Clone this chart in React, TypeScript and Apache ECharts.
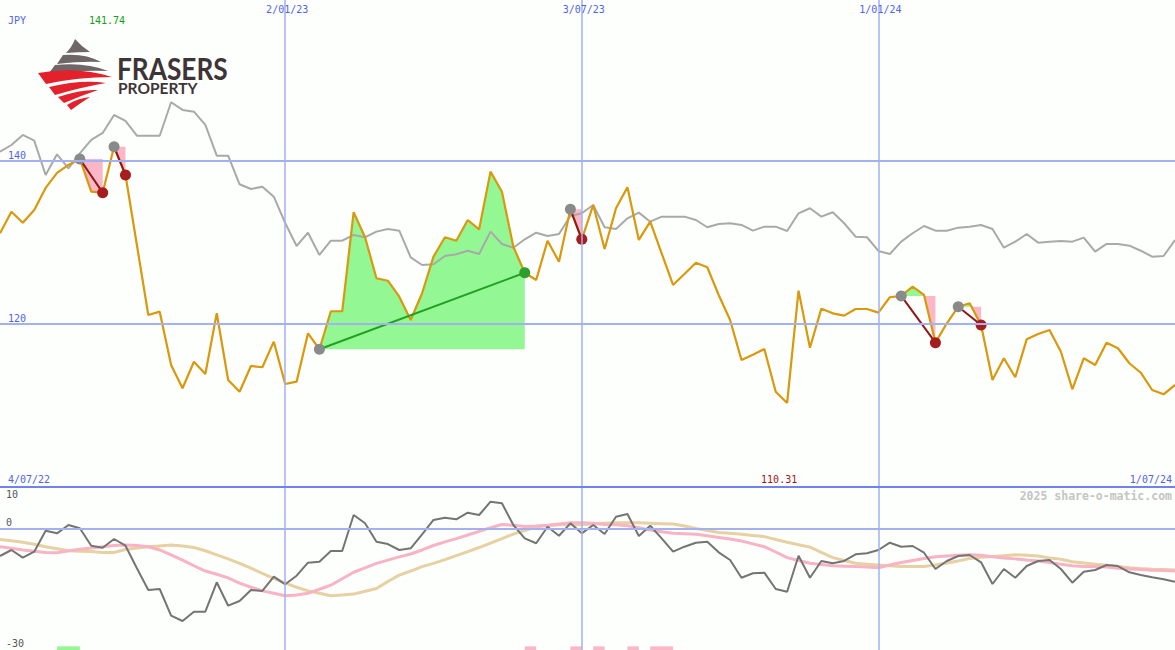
import React, { useEffect, useRef } from 'react';
import * as echarts from 'echarts';

// ---------- categories (weekly, Mondays) ----------
const WEEK_MS = 7 * 86400000;
const START_MS = Date.UTC(2022, 6, 11);
const dates: string[] = [];
for (let i = 0; i < 104; i++) {
  const d = new Date(START_MS + i * WEEK_MS);
  dates.push(`${d.getUTCDate()}/${String(d.getUTCMonth() + 1).padStart(2, '0')}/${String(d.getUTCFullYear()).slice(2)}`);
}
const dividerDates = ['2/01/23', '3/07/23', '1/01/24'];
const edgeLabels = ['4/07/22', '1/07/24'];
const bottomTicks = [10, 0, -30];
const mainTicks = [120, 140];
const currencyLabel = 'JPY';
const watermark = '2025 share-o-matic.com';

// ---------- series values ----------
const priceJPY = [
  131.13, 133.78, 132.43, 133.99, 136.69, 138.53, 139.51, 140.25, 136.23, 136.11,
  141.74, 138.28, 129.69, 121.1, 121.51, 114.97, 112.11, 115.37, 113.87, 121.31,
  113.13, 111.69, 114.85, 114.69, 117.83, 112.64, 112.92, 118.86, 116.9, 121.56,
  121.56, 133.71, 130.64, 125.61, 125.31, 123.35, 120.49, 123.77, 128.26, 130.64,
  130.22, 132.76, 131.62, 138.69, 136.23, 129.48, 126.29, 125.4, 130.22, 127.64,
  134.07, 130.39, 134.6, 129.2, 134.2, 136.77, 130.31, 132.55, 128.67, 124.79,
  126.13, 127.52, 126.96, 123.56, 120.49, 115.58, 116.23, 116.93, 111.69, 110.31,
  124.09, 117.09, 121.88, 121.31, 121.02, 121.84, 121.84, 121.39, 123.28, 123.44,
  124.58, 123.56, 117.71, 120.09, 122.12, 122.54, 119.88, 113.13, 115.79, 113.46,
  118.12, 118.77, 119.26, 116.6, 111.99, 115.79, 114.97, 117.71, 117.02, 115.18,
  114.02, 111.9, 111.37, 112.52,
];
const indexScaled = [
  141.14, 141.96, 143.19, 142.49, 138.28, 140.82, 139.1, 140.94, 142.58, 143.44,
  145.64, 144.91, 143.1, 143.1, 143.1, 147.2, 146.26, 146.05, 144.42, 140.65,
  140.65, 137.14, 136.56, 136.85, 135.62, 132.39, 129.57, 131.2, 128.47, 130.22,
  130.22, 130.92, 130.64, 131.33, 131.66, 131.45, 128.18, 127.24, 127.33, 128.34,
  128.55, 128.99, 128.59, 131.33, 129.82, 129.36, 130.39, 131.2, 130.8, 131.04,
  133.25, 133.58, 134.6, 131.87, 131.66, 132.97, 133.66, 132.55, 133.17, 133.17,
  133.17, 132.76, 131.87, 132.27, 132.36, 132.15, 131.45, 131.94, 131.94, 131.41,
  133.58, 134.2, 133.17, 133.71, 132.36, 130.71, 130.64, 128.96, 128.59, 130.1,
  131.13, 132.02, 131.45, 131.45, 131.82, 131.94, 132.15, 131.66, 129.36, 130.1,
  131.04, 129.98, 130.1, 130.18, 130.1, 130.59, 128.87, 129.82, 129.82, 129.61,
  128.99, 128.26, 128.34, 130.31,
];
const momentum = [
  -6.79, -5.31, -7.21, -5.73, -0.54, -1.19, 0.86, 0.05, -4.25, -4.74,
  -2.59, -4.25, -9.83, -15.19, -14.94, -21.53, -22.84, -20.54, -20.54, -13.28,
  -19.06, -17.9, -15.19, -15.43, -11.9, -13.78, -11.65, -8.44, -8.2, -5.56,
  -5.56, 3.33, 1.28, -3.26, -3.83, -5.31, -4.89, -1.43, 2.1, 2.67,
  2.27, 3.9, 3.33, 6.62, 6.22, 0.86, -2.42, -3.65, 0.44, -1.78,
  1.28, -1.19, 0.86, -1.36, 2.91, 3.58, -1.85, 0.69, -2.42, -5.73,
  -4.49, -3.51, -3.26, -5.88, -7.78, -12.15, -11.06, -10.91, -14.94, -15.6,
  -6.72, -12.15, -8.02, -8.59, -8.02, -6.37, -6.12, -5.31, -3.51, -4.49,
  -4.32, -5.98, -10, -8.02, -6.79, -6.54, -8.35, -13.7, -10, -12.15,
  -9.26, -8.02, -7.78, -10, -13.38, -10.67, -10.25, -9.01, -9.26, -10.81,
  -11.48, -12.05, -12.54, -13.14,
];
const pinkAvg = [
  -4.5, -4.9, -5.3, -5.6, -5.9, -6.0, -5.5, -5.1, -4.8, -4.5,
  -4.2, -4.1, -4.2, -4.5, -5.3, -6.5, -7.8, -9.2, -10.5, -11.3,
  -12.2, -13.5, -14.5, -15.4, -16.0, -16.6, -16.4, -16.0, -15.0, -14.0,
  -12.4, -10.8, -9.7, -8.6, -7.8, -7.0, -6.3, -5.3, -4.2, -3.3,
  -2.5, -1.6, -0.7, 0.2, 1.0, 0.8, 0.5, 0.6, 0.8, 1.1,
  1.4, 1.4, 1.3, 1.0, 0.9, 0.7, 0.2, -0.4, -0.8, -1.2,
  -1.3, -1.4, -1.8, -2.2, -2.6, -3.1, -3.8, -4.5, -5.8, -7.2,
  -7.9, -8.6, -8.9, -9.2, -9.3, -9.4, -9.5, -9.7, -9.0, -8.4,
  -7.9, -7.4, -7.0, -6.8, -6.6, -6.5, -6.6, -7.0, -7.3, -7.5,
  -7.8, -8.0, -8.4, -8.8, -9.2, -9.4, -9.4, -9.5, -9.8, -10.0,
  -10.1, -10.3, -10.4, -10.5,
];
const tanAvg = [
  -2.7, -3.0, -3.4, -3.9, -4.5, -5.0, -5.5, -5.6, -5.7, -5.9,
  -5.9, -5.2, -4.8, -4.5, -4.3, -4.1, -4.3, -4.7, -5.5, -6.5,
  -7.5, -8.6, -9.8, -11.1, -12.3, -13.5, -14.5, -15.4, -16.0, -16.6,
  -16.4, -16.2, -15.5, -14.8, -13.1, -11.5, -10.5, -9.4, -8.6, -7.7,
  -6.7, -5.7, -4.7, -3.6, -2.5, -1.4, -0.5, 0.4, 0.7, 0.9,
  0.9, 0.9, 1.1, 1.3, 1.4, 1.4, 1.4, 1.3, 1.2, 1.1,
  0.6, 0.0, -0.5, -1.0, -1.2, -1.4, -1.7, -2.0, -2.7, -3.4,
  -4.0, -4.6, -5.9, -7.2, -7.9, -8.6, -8.8, -9.0, -9.2, -9.4,
  -9.4, -9.4, -9.0, -8.5, -8.0, -7.4, -7.1, -6.9, -6.7, -6.5,
  -6.6, -6.8, -7.3, -7.6, -8.2, -8.5, -8.8, -9.1, -9.4, -9.7,
  -9.9, -10.05, -10.15, -10.25,
];
// trades: [entry index, exit index]
const trades = [[7, 9], [10, 11], [28, 46], [50, 51], [79, 82], [84, 86]];
// bottom signal strips: [from index, to index]
const greenSignals = [[5, 7]];
const pinkSignals = [[46, 47], [50, 51], [52, 53], [55, 56], [57, 59]];

// ---------- styling ----------
const BG = '#fdfffd';
const BLUE_TXT = '#5262ee';
const GRID_CLR = '#a3b1f1';
const DIVIDER_CLR = '#7282ec';
const MONO = '"DejaVu Sans Mono", "Liberation Mono", monospace';
const F10 = `10px ${MONO}`;
const W = 1175;
const MAIN_H = 487;

// ---------- logo shapes ----------
const logoGray = [
  'M75,39 Q81,46 90,52 Q79,52 66,53 Q72,47 75,39 Z',
  'M63,55 Q85,53 101,62 Q83,61 57,64 Z',
  'M55,65 Q86,62 108,71 Q85,70 49,73 Z',
];
const logoRed = [
  'M38,73 Q78,66 112,77 Q78,77 46,84 Z',
  'M49,87 Q82,79 106,83 Q82,87 55,95 Z',
  'M58,97 Q82,89 98,90 Q80,96 64,103 Z',
  'M67,105 Q78,98 90,97 Q79,104 71,110 Z',
];
let logoRegistered = false;
function registerLogo() {
  if (logoRegistered) return;
  logoRegistered = true;
  logoGray.forEach((d, i) => echarts.graphic.registerShape('logoG' + i, echarts.graphic.extendPath(d, {})));
  logoRed.forEach((d, i) => echarts.graphic.registerShape('logoR' + i, echarts.graphic.extendPath(d, {})));
}

function withCrossings(pts: number[][], baseY: number) {
  const out: number[][] = [pts[0]];
  for (let k = 1; k < pts.length; k++) {
    const [x0, y0] = pts[k - 1];
    const [x1, y1] = pts[k];
    if ((y0 - baseY) * (y1 - baseY) < 0) {
      const t = (baseY - y0) / (y1 - y0);
      out.push([x0 + t * (x1 - x0), baseY]);
    }
    out.push(pts[k]);
  }
  return out;
}

function buildOption(): any {
  const vLine = { color: GRID_CLR, width: 1.5, type: 'solid' };
  const hLine = { color: GRID_CLR, width: 2, type: 'solid' };
  const areaItems = [
    ...greenSignals.map(([a, b]) => [
      { xAxis: dates[a], yAxis: -30, itemStyle: { color: '#94f794' } },
      { xAxis: dates[b], yAxis: -29.1 },
    ]),
    ...pinkSignals.map(([a, b]) => [
      { xAxis: dates[a], yAxis: -30, itemStyle: { color: '#fbb6c8' } },
      { xAxis: dates[b], yAxis: -29.1 },
    ]),
  ];
  const gridMarks = (hVals: number[]) => ({
    silent: true, symbol: ['none', 'none'], label: { show: false },
    data: [
      ...dividerDates.map((d) => ({ xAxis: d, lineStyle: vLine })),
      ...hVals.map((v) => ({ yAxis: v, lineStyle: hLine })),
    ],
  });
  const hiddenX = (gridIndex: number) => ({
    type: 'category', gridIndex, data: dates, boundaryGap: false, show: false,
  });
  return {
    animation: false,
    backgroundColor: BG,
    grid: [
      { left: 0, top: 0, width: W, height: MAIN_H },
      { left: 0, top: 488, width: W, height: 162 },
    ],
    xAxis: [hiddenX(0), hiddenX(1)],
    yAxis: [
      {
        type: 'value', gridIndex: 0, min: 100, max: 159.75, interval: 20,
        axisLine: { show: false }, axisTick: { show: false },
        axisLabel: {
          inside: true, margin: 8, color: BLUE_TXT, fontFamily: MONO, fontSize: 10,
          verticalAlign: 'bottom',
          formatter: (v: number) => (mainTicks.includes(v) ? String(v) : ''),
        },
        splitLine: { show: false },
      },
      {
        type: 'value', gridIndex: 1, min: -30, max: 10, interval: 10, show: false,
      },
    ],
    series: [
      {
        // carrier for the main panel's grid lines (drawn beneath everything)
        type: 'line', xAxisIndex: 0, yAxisIndex: 0, z: 0, data: [],
        symbol: 'none', silent: true,
        markLine: gridMarks(mainTicks),
      },
      {
        // carrier for the lower panel's grid lines and signal strips
        type: 'line', xAxisIndex: 1, yAxisIndex: 1, z: 0, data: [],
        symbol: 'none', silent: true,
        markLine: gridMarks([0]),
        markArea: { silent: true, data: areaItems },
      },
      {
        // trade fills
        type: 'custom', xAxisIndex: 0, yAxisIndex: 0, z: 1, silent: true,
        data: trades,
        renderItem: (params: any, api: any) => {
          const e = api.value(0);
          const x = api.value(1);
          const base = priceJPY[e];
          const pts: number[][] = [];
          for (let k = e; k <= x; k++) pts.push(api.coord([k, priceJPY[k]]));
          const baseY = api.coord([e, base])[1];
          const cp = withCrossings(pts, baseY);
          const x0 = cp[0][0];
          const x1 = cp[cp.length - 1][0];
          const up = cp.map(([px, py]) => [px, Math.min(py, baseY)]).concat([[x1, baseY], [x0, baseY]]);
          const dn = cp.map(([px, py]) => [px, Math.max(py, baseY)]).concat([[x1, baseY], [x0, baseY]]);
          return {
            type: 'group',
            children: [
              { type: 'polygon', shape: { points: up }, style: { fill: '#93f893' } },
              { type: 'polygon', shape: { points: dn }, style: { fill: '#fbb6c8' } },
            ],
          };
        },
      },
      {
        type: 'line', xAxisIndex: 0, yAxisIndex: 0, z: 2, data: indexScaled,
        symbol: 'none', lineStyle: { color: '#a9a9a9', width: 2 }, silent: true,
      },
      {
        type: 'line', xAxisIndex: 0, yAxisIndex: 0, z: 3, data: priceJPY,
        symbol: 'none', lineStyle: { color: '#da980c', width: 2.2 }, silent: true,
      },
      {
        // trade lines and markers
        type: 'custom', xAxisIndex: 0, yAxisIndex: 0, z: 4, silent: true,
        data: trades,
        renderItem: (params: any, api: any) => {
          const e = api.value(0);
          const x = api.value(1);
          const gain = priceJPY[x] > priceJPY[e];
          const p0 = api.coord([e, priceJPY[e]]);
          const p1 = api.coord([x, priceJPY[x]]);
          return {
            type: 'group',
            children: [
              {
                type: 'line', shape: { x1: p0[0], y1: p0[1], x2: p1[0], y2: p1[1] },
                style: { stroke: gain ? '#21a021' : '#8f1717', lineWidth: 2 },
              },
              { type: 'circle', shape: { cx: p0[0], cy: p0[1], r: 5.5 }, style: { fill: '#8a8a8a' } },
              { type: 'circle', shape: { cx: p1[0], cy: p1[1], r: 5.5 }, style: { fill: gain ? '#2e9e2e' : '#a61d1d' } },
            ],
          };
        },
      },
      {
        type: 'line', xAxisIndex: 1, yAxisIndex: 1, z: 2, data: tanAvg,
        symbol: 'none', lineStyle: { color: '#e7d0a2', width: 3 }, silent: true,
      },
      {
        type: 'line', xAxisIndex: 1, yAxisIndex: 1, z: 3, data: pinkAvg,
        symbol: 'none', lineStyle: { color: '#f8b3c5', width: 3 }, silent: true,
      },
      {
        type: 'line', xAxisIndex: 1, yAxisIndex: 1, z: 4, data: momentum,
        symbol: 'none', lineStyle: { color: '#747474', width: 2 }, silent: true,
      },
    ],
  };
}

function txt(text: string, x: number, y: number, fill: string, align = 'left', vAlign = 'middle', font = F10) {
  return {
    type: 'text', x, y, silent: true, z: 20,
    style: { text, fill, font, align, verticalAlign: vAlign, textAlign: align, textVerticalAlign: vAlign },
  };
}

function buildGraphics(chart: any) {
  const dividerIdx = dividerDates.map((d) => dates.indexOf(d));
  const px = (i: number) => chart.convertToPixel({ xAxisIndex: 0 }, dates[i]);
  const py1 = (v: number) => chart.convertToPixel({ yAxisIndex: 1 }, v);
  const maxV = Math.max(...priceJPY);
  const minV = Math.min(...priceJPY);
  const maxI = priceJPY.indexOf(maxV);
  const minI = priceJPY.indexOf(minV);
  const els: any[] = [];
  // panel divider
  els.push({
    type: 'line', z: 15, silent: true,
    shape: { x1: 0, y1: MAIN_H, x2: W, y2: MAIN_H },
    style: { stroke: DIVIDER_CLR, lineWidth: 2 },
  });
  els.push(txt(currencyLabel, 8, 20, BLUE_TXT));
  els.push(txt(maxV.toFixed(2), px(maxI) - 7, 20, '#12a012', 'center'));
  dividerDates.forEach((d, k) => els.push(txt(d, px(dividerIdx[k]) + 2, 9, BLUE_TXT, 'center')));
  els.push(txt(edgeLabels[0], 8, 479, BLUE_TXT));
  els.push(txt(edgeLabels[1], 1172, 479, BLUE_TXT, 'right'));
  els.push(txt(minV.toFixed(2), px(minI) - 8, 479, '#a2161a', 'center'));
  els.push(txt(watermark, 1172, 496, '#c4c4c4', 'right', 'middle', `bold 11.5px ${MONO}`));
  bottomTicks.forEach((v) => {
    const y = py1(v);
    if (v === 10) els.push(txt(String(v), 6, y + 1, '#555555', 'left', 'top'));
    else els.push(txt(String(v), 6, y - 1.5, '#555555', 'left', 'bottom'));
  });
  // logo
  logoGray.forEach((_, i) => els.push({ type: 'logoG' + i, x: 0, y: 0, z: 20, silent: true, style: { fill: '#6f6668' } }));
  logoRed.forEach((_, i) => els.push({ type: 'logoR' + i, x: 0, y: 0, z: 20, silent: true, style: { fill: '#e3202c' } }));
  els.push({
    type: 'text', x: 117, y: 68, scaleX: 0.875, z: 20, silent: true,
    style: { text: 'FRASERS', fill: '#3e3438', font: 'bold 30px Lato', verticalAlign: 'middle', textVerticalAlign: 'middle' },
  });
  els.push({
    type: 'text', x: 118, y: 87, scaleX: 0.97, z: 20, silent: true,
    style: { text: 'PROPERTY', fill: '#3e3438', font: 'bold 16px Lato', verticalAlign: 'middle', textVerticalAlign: 'middle' },
  });
  return els;
}

export default function App() {
  const ref = useRef<HTMLDivElement>(null);
  useEffect(() => {
    registerLogo();
    const chart = echarts.init(ref.current!, undefined, { renderer: 'svg' });
    chart.setOption(buildOption());
    chart.setOption({ graphic: { elements: buildGraphics(chart) } });
    return () => chart.dispose();
  }, []);
  return (
    <div
      ref={ref}
      style={{ position: 'fixed', left: 0, top: 0, width: W, height: 650, background: BG }}
    />
  );
}
